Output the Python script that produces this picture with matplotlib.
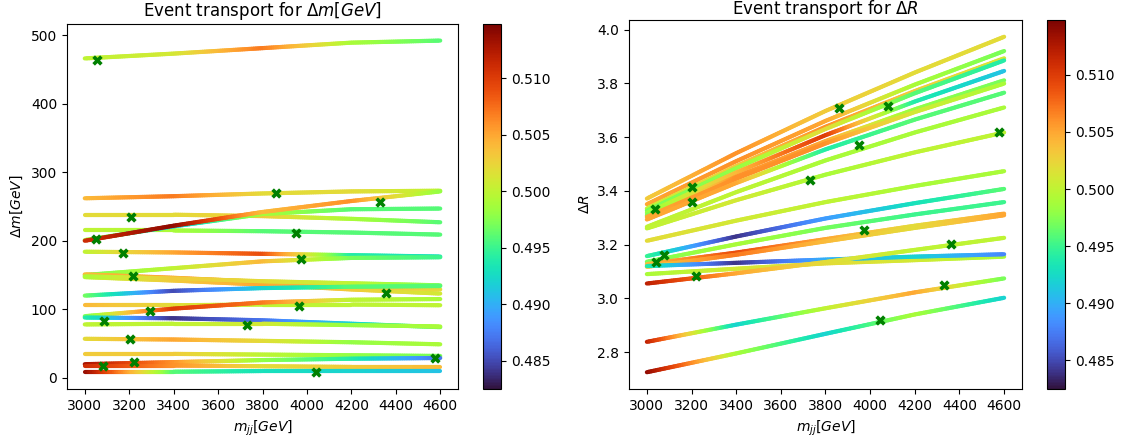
import numpy as np
import matplotlib
matplotlib.use("Agg")
import matplotlib.pyplot as plt
from matplotlib.collections import LineCollection
from matplotlib.colors import Normalize
from matplotlib.cm import ScalarMappable

# ---------------- data ----------------
mjj_nodes = [3000, 3400, 3800, 4200, 4600]

# Delta m paths (values at mjj_nodes) and colour values along them
dm_paths = [
    [466, 473, 481, 489, 492],
    [262, 265, 269, 272, 273],
    [238, 238, 236, 232, 227],
    [215, 215, 214, 212, 209],
    [201, 221, 239, 246, 247],
    [200, 222, 242, 258, 272],
    [184, 183, 181, 179, 177],
    [150, 160, 170, 175, 176],
    [147, 142, 136, 129, 123],
    [151, 146, 140, 134, 129],
    [148, 145, 141, 138, 135],
    [120, 127, 131, 133, 134],
    [106, 106, 107, 107, 106],
    [90, 101, 110, 114, 115],
    [88, 87, 84, 79, 74],
    [78, 79, 79, 77, 75],
    [57, 56, 54, 52, 49],
    [35, 35, 34, 33, 32],
    [20, 23, 26, 28, 29],
    [18, 18, 17, 16, 16],
    [9, 9, 10, 10, 10],
]
dm_colors = [
    [0.500, 0.501, 0.507, 0.499, 0.496],
    [0.504, 0.507, 0.502, 0.502, 0.500],
    [0.502, 0.502, 0.503, 0.499, 0.496],
    [0.500, 0.499, 0.496, 0.496, 0.496],
    [0.499, 0.491, 0.499, 0.496, 0.496],
    [0.511, 0.514, 0.504, 0.506, 0.498],
    [0.500, 0.505, 0.509, 0.494, 0.493],
    [0.497, 0.500, 0.504, 0.497, 0.495],
    [0.500, 0.503, 0.505, 0.503, 0.501],
    [0.504, 0.505, 0.505, 0.504, 0.502],
    [0.499, 0.503, 0.502, 0.500, 0.497],
    [0.497, 0.485, 0.492, 0.496, 0.496],
    [0.504, 0.502, 0.500, 0.500, 0.500],
    [0.497, 0.510, 0.507, 0.500, 0.499],
    [0.494, 0.484, 0.487, 0.492, 0.497],
    [0.500, 0.500, 0.501, 0.498, 0.499],
    [0.502, 0.505, 0.502, 0.498, 0.499],
    [0.503, 0.503, 0.500, 0.498, 0.497],
    [0.513, 0.506, 0.498, 0.494, 0.487],
    [0.511, 0.506, 0.502, 0.503, 0.504],
    [0.514, 0.496, 0.493, 0.492, 0.491],
]
dm_marker_x = [3056, 3860, 4330, 3207, 3051, 3952, 3170, 3974, 3215, 4358,
               3295, 3966, 3088, 3732, 3202, 4575, 3223, 3083, 4040]
dm_marker_y = [464, 270, 257, 235, 203, 212, 182, 174, 148, 124,
               98, 105, 83, 77, 57, 29, 23, 17, 8]

# Delta R paths
dr_paths = [
    [3.371, 3.540, 3.697, 3.840, 3.973],
    [3.350, 3.510, 3.660, 3.795, 3.920],
    [3.334, 3.492, 3.638, 3.771, 3.893],
    [3.326, 3.484, 3.630, 3.763, 3.885],
    [3.318, 3.468, 3.607, 3.732, 3.846],
    [3.309, 3.452, 3.585, 3.703, 3.811],
    [3.303, 3.445, 3.576, 3.693, 3.799],
    [3.293, 3.429, 3.554, 3.665, 3.765],
    [3.266, 3.395, 3.513, 3.617, 3.710],
    [3.260, 3.365, 3.460, 3.543, 3.617],
    [3.214, 3.289, 3.358, 3.418, 3.473],
    [3.157, 3.230, 3.297, 3.354, 3.407],
    [3.136, 3.201, 3.262, 3.312, 3.358],
    [3.127, 3.170, 3.220, 3.270, 3.315],
    [3.117, 3.162, 3.212, 3.262, 3.309],
    [3.090, 3.110, 3.130, 3.142, 3.155],
    [3.120, 3.132, 3.144, 3.155, 3.164],
    [3.055, 3.093, 3.135, 3.180, 3.225],
    [2.838, 2.902, 2.963, 3.022, 3.074],
    [2.725, 2.795, 2.868, 2.940, 3.002],
]
dr_colors = [
    [0.503, 0.506, 0.503, 0.502, 0.502],
    [0.505, 0.506, 0.505, 0.499, 0.497],
    [0.500, 0.503, 0.506, 0.503, 0.501],
    [0.497, 0.498, 0.502, 0.496, 0.494],
    [0.498, 0.504, 0.510, 0.494, 0.491],
    [0.497, 0.506, 0.505, 0.498, 0.497],
    [0.505, 0.506, 0.506, 0.501, 0.499],
    [0.505, 0.505, 0.494, 0.496, 0.496],
    [0.500, 0.500, 0.499, 0.499, 0.499],
    [0.500, 0.501, 0.499, 0.500, 0.500],
    [0.502, 0.501, 0.500, 0.499, 0.499],
    [0.495, 0.484, 0.489, 0.493, 0.496],
    [0.497, 0.499, 0.497, 0.495, 0.495],
    [0.504, 0.509, 0.505, 0.502, 0.505],
    [0.503, 0.507, 0.504, 0.502, 0.505],
    [0.499, 0.501, 0.502, 0.501, 0.499],
    [0.494, 0.484, 0.490, 0.492, 0.488],
    [0.512, 0.505, 0.502, 0.500, 0.500],
    [0.512, 0.492, 0.500, 0.505, 0.497],
    [0.514, 0.499, 0.492, 0.499, 0.492],
]
dr_marker_x = [3862, 4079, 3950, 3729, 4576, 3201, 3204, 3035, 3075, 3043,
               3220, 3971, 4360, 4331, 4043]
dr_marker_y = [3.707, 3.716, 3.572, 3.442, 3.617, 3.414, 3.358, 3.333, 3.160, 3.136,
               3.083, 3.253, 3.201, 3.049, 2.920]

c_min, c_max = 0.4825, 0.5148

# ---------------- drawing ----------------
norm = Normalize(vmin=c_min, vmax=c_max)
cmap = plt.get_cmap("turbo")

W, H = 1131, 445
fig = plt.figure(figsize=(W / 100, H / 100), dpi=100)


def frac(l, r, top, bottom):
    return [l / W, (H - bottom) / H, (r - l) / W, (bottom - top) / H]


def draw(ax, paths, colors, mx, my):
    segs, vals = [], []
    for yv, cv in zip(paths, colors):
        # subdivide each polyline only so that the colour changes smoothly
        xf = np.linspace(mjj_nodes[0], mjj_nodes[-1], 161)
        yf = np.interp(xf, mjj_nodes, yv)
        cf = np.interp(xf, mjj_nodes, cv)
        pts = np.column_stack([xf, yf])
        segs.extend(np.stack([pts[:-1], pts[1:]], axis=1))
        vals.extend((cf[:-1] + cf[1:]) / 2)
    lc = LineCollection(segs, cmap=cmap, norm=norm, linewidths=3.0,
                        capstyle="round")
    lc.set_array(np.array(vals))
    ax.add_collection(lc, autolim=True)
    ax.scatter(mx, my, marker="X", color="green", s=55, zorder=3,
               linewidths=0)
    ax.autoscale_view()


ax1 = fig.add_axes(frac(67, 458, 24, 389))
cax1 = fig.add_axes(frac(483, 501, 24, 389))
ax2 = fig.add_axes(frac(629, 1022, 20, 389))
cax2 = fig.add_axes(frac(1047, 1065, 20, 389))

draw(ax1, dm_paths, dm_colors, dm_marker_x, dm_marker_y)
draw(ax2, dr_paths, dr_colors, dr_marker_x, dr_marker_y)

ax1.set_title(r"Event transport for $\Delta m[GeV]$", fontsize=12)
ax1.set_xlabel(r"$m_{jj}[GeV]$")
ax1.set_ylabel(r"$\Delta m[GeV]$")
ax2.set_title(r"Event transport for $\Delta R$", fontsize=12, pad=4)
ax2.set_xlabel(r"$m_{jj}[GeV]$")
ax2.set_ylabel(r"$\Delta R$")

for ax in (ax1, ax2):
    ax.set_xticks(np.arange(3000, 4601, 200))

sm = ScalarMappable(norm=norm, cmap=cmap)
fig.colorbar(sm, cax=cax1)
fig.colorbar(sm, cax=cax2)

fig.savefig("out.png", dpi=100)
